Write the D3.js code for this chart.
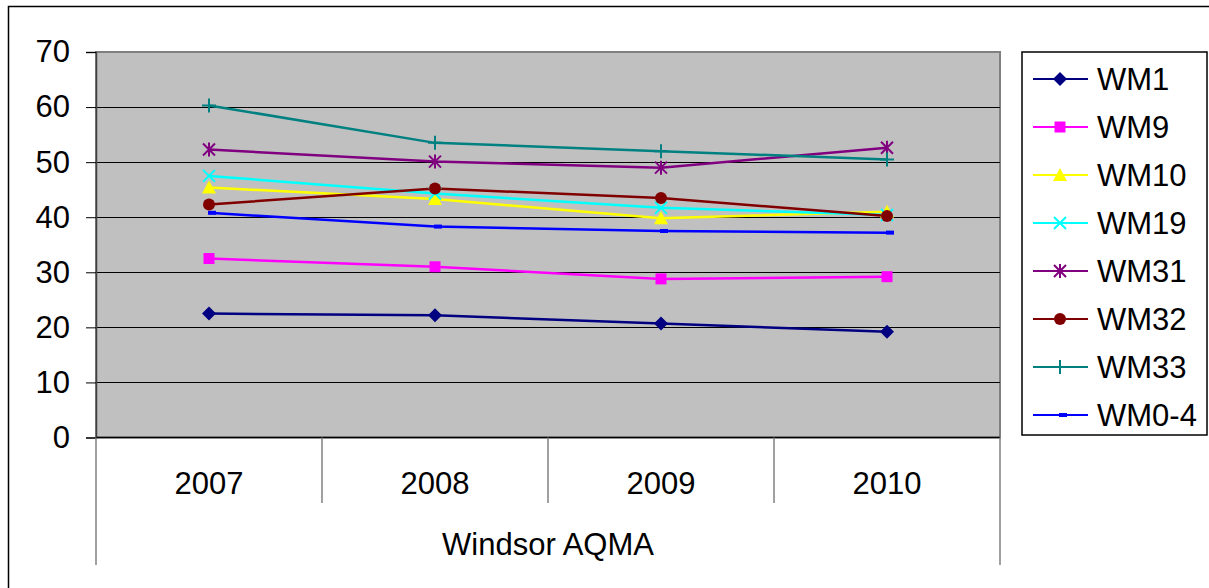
<!DOCTYPE html>
<html>
<head>
<meta charset="utf-8">
<script src="https://cdn.jsdelivr.net/npm/d3@7"></script>
<style>
  body { margin: 0; background: #fff; }
  text { font-family: "Liberation Sans", Arial, sans-serif; fill: #000; }
</style>
</head>
<body>
<div id="chart"></div>
<script>
// data
var years = ["2007", "2008", "2009", "2010"];
var seriesNames = ["WM1", "WM9", "WM10", "WM19", "WM31", "WM32", "WM33", "WM0-4"];
var wm1  = [22.5, 22.2, 20.7, 19.2];
var wm9  = [32.5, 31.0, 28.8, 29.2];
var wm10 = [45.4, 43.3, 39.8, 41.0];
var wm19 = [47.5, 44.3, 41.7, 40.4];
var wm31 = [52.3, 50.1, 49.0, 52.6];
var wm32 = [42.3, 45.2, 43.5, 40.2];
var wm33 = [60.3, 53.5, 52.0, 50.5];
var wm04 = [40.8, 38.3, 37.5, 37.2];
var yTicks = [0, 10, 20, 30, 40, 50, 60, 70];
var groupLabel = "Windsor AQMA";

var colours = ["#000080", "#ff00ff", "#ffff00", "#00ffff", "#800080", "#800000", "#008080", "#0000ff"];
var shapes = ["diamond", "square", "triangle", "x", "star", "circle", "plus", "dash"];

var allValues = [wm1, wm9, wm10, wm19, wm31, wm32, wm33, wm04];
var series = seriesNames.map(function(n, i) {
  return {name: n, values: allValues[i], colour: colours[i], shape: shapes[i]};
});

var W = 1209, H = 588;
var plot = {left: 96, top: 52, right: 1000, bottom: 437.5};

var svg = d3.select("#chart").append("svg")
  .attr("width", W).attr("height", H);

// outer chart border
svg.append("rect")
  .attr("x", 8.5).attr("y", 6.5)
  .attr("width", 1220).attr("height", 600)
  .attr("fill", "none").attr("stroke", "#000").attr("stroke-width", 1.5);

var x = d3.scaleBand().domain(years).range([plot.left, plot.right]);
var y = d3.scaleLinear().domain([0, 70]).range([plot.bottom, plot.top]);

// plot area
svg.append("rect")
  .attr("x", plot.left).attr("y", plot.top)
  .attr("width", plot.right - plot.left).attr("height", plot.bottom - plot.top)
  .attr("fill", "#c0c0c0").attr("stroke", "#808080").attr("stroke-width", 2);

// gridlines
svg.append("g").selectAll("line")
  .data(yTicks.filter(function(d) { return d > 0 && d < 70; }))
  .enter().append("line")
    .attr("x1", plot.left).attr("x2", plot.right)
    .attr("y1", function(d) { return Math.round(y(d)) + 0.5; })
    .attr("y2", function(d) { return Math.round(y(d)) + 0.5; })
    .attr("stroke", "#000").attr("stroke-width", 1);

// y axis
var yAxis = svg.append("g")
  .attr("transform", "translate(" + plot.left + ",0)")
  .call(d3.axisLeft(y).tickValues(yTicks).tickSize(10).tickPadding(16));
yAxis.select(".domain").attr("stroke", "#404040").attr("stroke-width", 1.5);
yAxis.selectAll(".tick line").attr("stroke", "#000");
yAxis.selectAll("text")
  .style("font-size", "31px").style("font-family", "Liberation Sans, Arial, sans-serif")
  .attr("fill", "#000");

// bottom axis line
svg.append("line")
  .attr("x1", plot.left).attr("x2", plot.right)
  .attr("y1", plot.bottom).attr("y2", plot.bottom)
  .attr("stroke", "#000").attr("stroke-width", 1.5);

// category separators
var seps = years.map(function(d) { return x(d); }).concat([plot.right]);
svg.append("g").selectAll("line")
  .data(seps)
  .enter().append("line")
    .attr("x1", function(d) { return d; }).attr("x2", function(d) { return d; })
    .attr("y1", plot.bottom)
    .attr("y2", function(d, i) { return (i == 0 || i == seps.length - 1) ? 565 : 503; })
    .attr("stroke", "#808080").attr("stroke-width", 1.5);

// category labels
svg.append("g").selectAll("text")
  .data(years)
  .enter().append("text")
    .attr("x", function(d) { return x(d) + x.bandwidth() / 2; })
    .attr("y", 494)
    .attr("text-anchor", "middle")
    .style("font-size", "31px")
    .text(function(d) { return d; });

svg.append("text")
  .attr("x", (plot.left + plot.right) / 2)
  .attr("y", 555)
  .attr("text-anchor", "middle")
  .style("font-size", "31px")
  .text(groupLabel);

// marker drawing
function drawMarker(g, shape, colour) {
  if (shape == "diamond") {
    g.append("path").attr("d", "M0,-7L7,0L0,7L-7,0Z").attr("fill", colour);
  } else if (shape == "square") {
    g.append("rect").attr("x", -5.5).attr("y", -5.5).attr("width", 11).attr("height", 11).attr("fill", colour);
  } else if (shape == "triangle") {
    g.append("path").attr("d", "M0,-7L7,6L-7,6Z").attr("fill", colour);
  } else if (shape == "circle") {
    g.append("circle").attr("r", 6).attr("fill", colour);
  } else if (shape == "x") {
    g.append("path").attr("d", "M-6,-6L6,6M6,-6L-6,6").attr("stroke", colour).attr("stroke-width", 2).attr("fill", "none");
  } else if (shape == "star") {
    g.append("path").attr("d", "M-6,-6L6,6M6,-6L-6,6M0,-7L0,7").attr("stroke", colour).attr("stroke-width", 2).attr("fill", "none");
  } else if (shape == "plus") {
    g.append("path").attr("d", "M-7,0L7,0M0,-7L0,7").attr("stroke", colour).attr("stroke-width", 2).attr("fill", "none");
  } else if (shape == "dash") {
    g.append("rect").attr("x", -1).attr("y", -2).attr("width", 8).attr("height", 4).attr("fill", colour);
  }
}

var line = d3.line()
  .x(function(d, i) { return x(years[i]) + x.bandwidth() / 2; })
  .y(function(d) { return y(d); });

series.forEach(function(s) {
  svg.append("path")
    .datum(s.values)
    .attr("d", line)
    .attr("fill", "none")
    .attr("stroke", s.colour)
    .attr("stroke-width", 2.5);
});

series.forEach(function(s) {
  s.values.forEach(function(v, i) {
    var g = svg.append("g")
      .attr("transform", "translate(" + (x(years[i]) + x.bandwidth() / 2) + "," + y(v) + ")");
    drawMarker(g, s.shape, s.colour);
  });
});

// legend
var legend = svg.append("g");
legend.append("rect")
  .attr("x", 1022).attr("y", 52)
  .attr("width", 185).attr("height", 383)
  .attr("fill", "#fff").attr("stroke", "#000").attr("stroke-width", 1.5);

var items = legend.selectAll(".item")
  .data(series)
  .enter().append("g")
    .attr("class", "item")
    .attr("transform", function(d, i) { return "translate(0," + (79 + i * 48) + ")"; });

items.append("line")
  .attr("x1", 1033).attr("x2", 1088)
  .attr("y1", 0).attr("y2", 0)
  .attr("stroke", function(d) { return d.colour; })
  .attr("stroke-width", 2);

items.each(function(d) {
  var g = d3.select(this).append("g").attr("transform", "translate(1060,0)");
  drawMarker(g, d.shape, d.colour);
});

items.append("text")
  .attr("x", 1097).attr("y", 11)
  .style("font-size", "31px")
  .text(function(d) { return d.name; });
</script>
</body>
</html>
